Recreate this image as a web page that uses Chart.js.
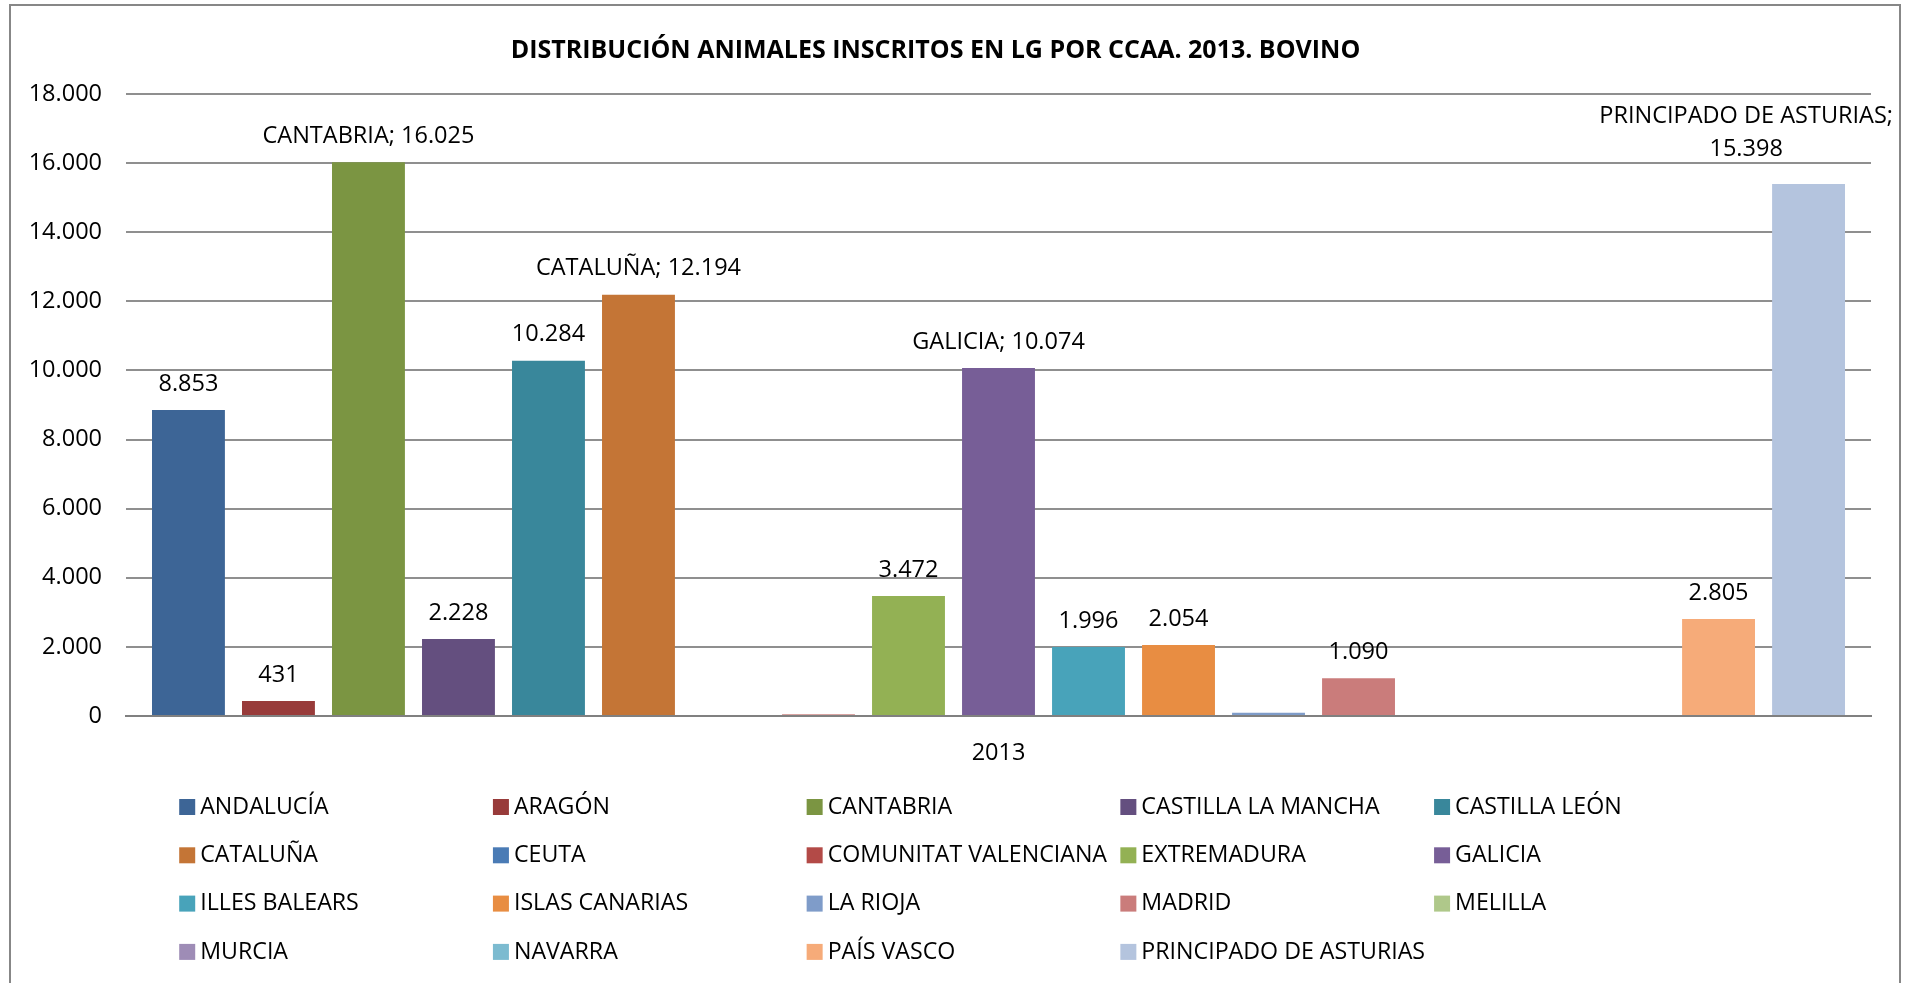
<!DOCTYPE html>
<html lang="es">
<head>
<meta charset="utf-8">
<title>Distribución animales inscritos en LG por CCAA. 2013. Bovino</title>
<script src="https://cdn.jsdelivr.net/npm/chart.js@4.4.0/dist/chart.umd.min.js"></script>
<style>
  html, body { margin: 0; padding: 0; background: #fff; }
  #wrap { width: 1906px; height: 983px; position: relative; }
</style>
</head>
<body>
<div id="wrap"><canvas id="grafico"></canvas></div>
<script>
// datos
const anios = ['2013'];
const comunidades = [
  'ANDALUCÍA', 'ARAGÓN', 'CANTABRIA', 'CASTILLA LA MANCHA', 'CASTILLA LEÓN',
  'CATALUÑA', 'CEUTA', 'COMUNITAT VALENCIANA', 'EXTREMADURA', 'GALICIA',
  'ILLES BALEARS', 'ISLAS CANARIAS', 'LA RIOJA', 'MADRID', 'MELILLA',
  'MURCIA', 'NAVARRA', 'PAÍS VASCO', 'PRINCIPADO DE ASTURIAS'
];
const animales = [8853, 431, 16025, 2228, 10284, 12194, 0, 40, 3472, 10074, 1996, 2054, 95, 1090, 0, 0, 0, 2805, 15398];
const colores = [
  '#3d6596', '#983b3a', '#7b9542', '#644f7f', '#39879b',
  '#c47536', '#4a7bb5', '#b34a47', '#93b154', '#775e97',
  '#48a3ba', '#e88d42', '#7f9cc9', '#ca7c7b', '#afc88a',
  '#9e8cb6', '#7cbbd0', '#f6ab79', '#b4c4de'
];
const ticksY = [0, 2000, 4000, 6000, 8000, 10000, 12000, 14000, 16000, 18000];
const conNombre = ['CANTABRIA', 'CATALUÑA', 'GALICIA', 'PRINCIPADO DE ASTURIAS'];
const sinEtiqueta = ['CEUTA', 'COMUNITAT VALENCIANA', 'LA RIOJA', 'MELILLA', 'MURCIA', 'NAVARRA'];

const fmt = v => String(v).replace(/\B(?=(\d{3})+(?!\d))/g, '.');
const FUENTE = '"Open Sans", "Noto Sans", sans-serif';

Chart.defaults.font.family = FUENTE;
Chart.defaults.font.size = 23.5;
Chart.defaults.color = '#000';

// marco gris alrededor del grafico
const marco = {
  id: 'marco',
  beforeDraw(chart) {
    const ctx = chart.ctx;
    ctx.save();
    ctx.fillStyle = '#fff';
    ctx.fillRect(0, 0, chart.width, chart.height);
    ctx.strokeStyle = '#878787';
    ctx.lineWidth = 2;
    ctx.strokeRect(10, 5, 1890, 2000);
    ctx.restore();
  }
};

// etiquetas de valor encima de cada barra
const etiquetas = {
  id: 'etiquetas',
  afterDatasetsDraw(chart) {
    const ctx = chart.ctx;
    ctx.save();
    ctx.font = '23.5px ' + FUENTE;
    ctx.fillStyle = '#000';
    ctx.textAlign = 'center';
    ctx.textBaseline = 'middle';
    chart.data.datasets.forEach((ds, i) => {
      if (sinEtiqueta.includes(ds.label)) return;
      const bar = chart.getDatasetMeta(i).data[0];
      const v = ds.data[0];
      let lineas = conNombre.includes(ds.label) ? [ds.label + '; ' + fmt(v)] : [fmt(v)];
      if (ctx.measureText(lineas[0]).width > 330) lineas = [ds.label + ';', fmt(v)];
      const ancho = Math.max(...lineas.map(l => ctx.measureText(l).width));
      const x = Math.min(bar.x, chart.width - 13 - ancho / 2);
      const base = lineas.length > 1 ? bar.y - 35 : bar.y - 26;
      lineas.slice().reverse().forEach((l, k) => ctx.fillText(l, x, base - k * 33));
    });
    ctx.restore();
  }
};

// leyenda en rejilla de 5 columnas
const leyenda = {
  id: 'leyenda',
  afterDraw(chart) {
    const ctx = chart.ctx;
    ctx.save();
    ctx.font = '23.2px ' + FUENTE;
    ctx.textBaseline = 'middle';
    const items = chart.data.datasets;
    const maxW = Math.max(...items.map(d => ctx.measureText(d.label).width));
    const cols = 5, caja = 16, hueco = 5, sep = 9;
    const colW = caja + hueco + maxW + sep;
    const total = cols * colW - sep;
    const x0 = (chart.width - total) / 2 + 6;
    const y0 = 807, filaH = 48.3;
    items.forEach((d, i) => {
      const x = x0 + (i % cols) * colW;
      const y = y0 + Math.floor(i / cols) * filaH;
      ctx.fillStyle = d.backgroundColor;
      ctx.fillRect(x, y - 8, caja, 16);
      ctx.fillStyle = '#000';
      ctx.fillText(d.label, x + caja + hueco, y);
    });
    ctx.restore();
  }
};

new Chart(document.getElementById('grafico'), {
  type: 'bar',
  data: {
    labels: anios,
    datasets: comunidades.map((c, i) => ({
      label: c,
      data: [animales[i]],
      backgroundColor: colores[i],
      borderWidth: 0
    }))
  },
  options: {
    responsive: true,
    maintainAspectRatio: false,
    animation: false,
    layout: { padding: { left: 0, right: 35, top: 0, bottom: 0 } },
    datasets: { bar: { categoryPercentage: 0.98, barPercentage: 0.81 } },
    plugins: {
      legend: { display: false },
      tooltip: { enabled: false },
      title: {
        display: true,
        text: 'DISTRIBUCIÓN ANIMALES INSCRITOS EN LG POR CCAA. 2013. BOVINO',
        font: { size: 25, weight: 'bold' },
        color: '#000',
        padding: { top: 36, bottom: 28 }
      }
    },
    scales: {
      x: {
        grid: { display: false },
        border: { color: '#808080', width: 2 },
        ticks: { padding: 15 },
        afterFit: s => { s.height = 267; }
      },
      y: {
        min: 0,
        max: 18000,
        grid: { color: '#8f8f8f', lineWidth: 2, drawTicks: false },
        border: { display: false },
        ticks: { padding: 24, callback: v => fmt(v) },
        afterBuildTicks: s => { s.ticks = ticksY.map(v => ({ value: v })); },
        afterFit: s => { s.width = 126; }
      }
    }
  },
  plugins: [marco, etiquetas, leyenda]
});
</script>
</body>
</html>
